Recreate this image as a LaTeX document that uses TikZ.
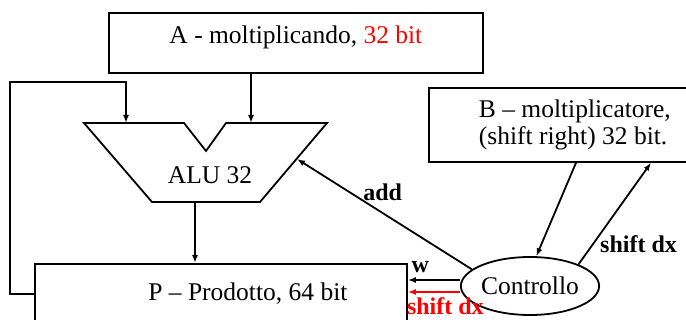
\documentclass[tikz,border=0pt]{standalone}
\usepackage{fontspec}
\setmainfont{Liberation Serif}
\usetikzlibrary{shapes.geometric,arrows.meta}
\begin{document}
\begin{tikzpicture}[x=1pt,y=-1pt,line width=1.8pt,>={Latex[length=8pt,width=6pt]},
  font=\fontsize{25.5}{27}\selectfont]
\tikzstyle{reg}=[draw,rectangle,inner sep=0pt]
\tikzstyle{lab}=[font=\fontsize{24}{26}\selectfont\bfseries]
\useasboundingbox (0,0) rectangle (686,320);

% Registro A
\node[reg,anchor=north west,minimum width=374pt,inner ysep=14pt,text height=17pt,text depth=15pt] (A) at (108,12) {A - moltiplicando, \textcolor{red}{32 bit}};

% Registro B
\node[reg,anchor=north west,inner xsep=50pt,minimum height=74pt,align=left] (B) at (428,87) {B -- moltiplicatore,\\(shift right) 32 bit.};

% ALU
\draw (84,123) -- (184,123) -- (206,151) -- (226,123) -- (327,123) -- (260,202) -- (152,202) -- cycle;
\node (alu) at (210,175) {ALU 32};
\coordinate (aluL) at (126,123);
\coordinate (aluR) at (251,123);
\coordinate (aluO) at (195,202);
\coordinate (aluadd) at (297,159);

% Registro P
\node[reg,anchor=north west,minimum width=372pt,minimum height=60pt,label={[xshift=27pt]center:P -- Prodotto, 64 bit}] (P) at (34,263) {};

% Controllo
\node[ellipse,draw,minimum width=122pt,minimum height=58pt,inner sep=0pt] (ctrl) at (530,286) {Controllo};

% Collegamenti
\draw[->] (A.south -| aluR) -- (aluR);
\draw[->] (aluO) -- (aluO |- P.north);
\draw[->] (P.west) -- ++(-24,0) |- ([yshift=41pt]aluL) -- (aluL);
\draw[->] (ctrl.164) -- node[lab,pos=0.51,above=8pt]{add} (aluadd);
\draw[->] ([xshift=148pt]B.south west) -- (ctrl.78);
\draw[->] (ctrl.24) -- node[lab,pos=0.2,right=3pt]{shift dx} ([xshift=223pt]B.south west);
\draw[->] ([yshift=6pt]ctrl.west) -- node[lab,pos=0.76,above=3pt]{w} ([yshift=6pt]ctrl.west -| P.east);
\draw[->,red] ([yshift=-6pt]ctrl.west) -- node[lab,pos=0.28,below=1pt]{shift dx} ([yshift=-6pt]ctrl.west -| P.east);

\end{tikzpicture}
\end{document}
